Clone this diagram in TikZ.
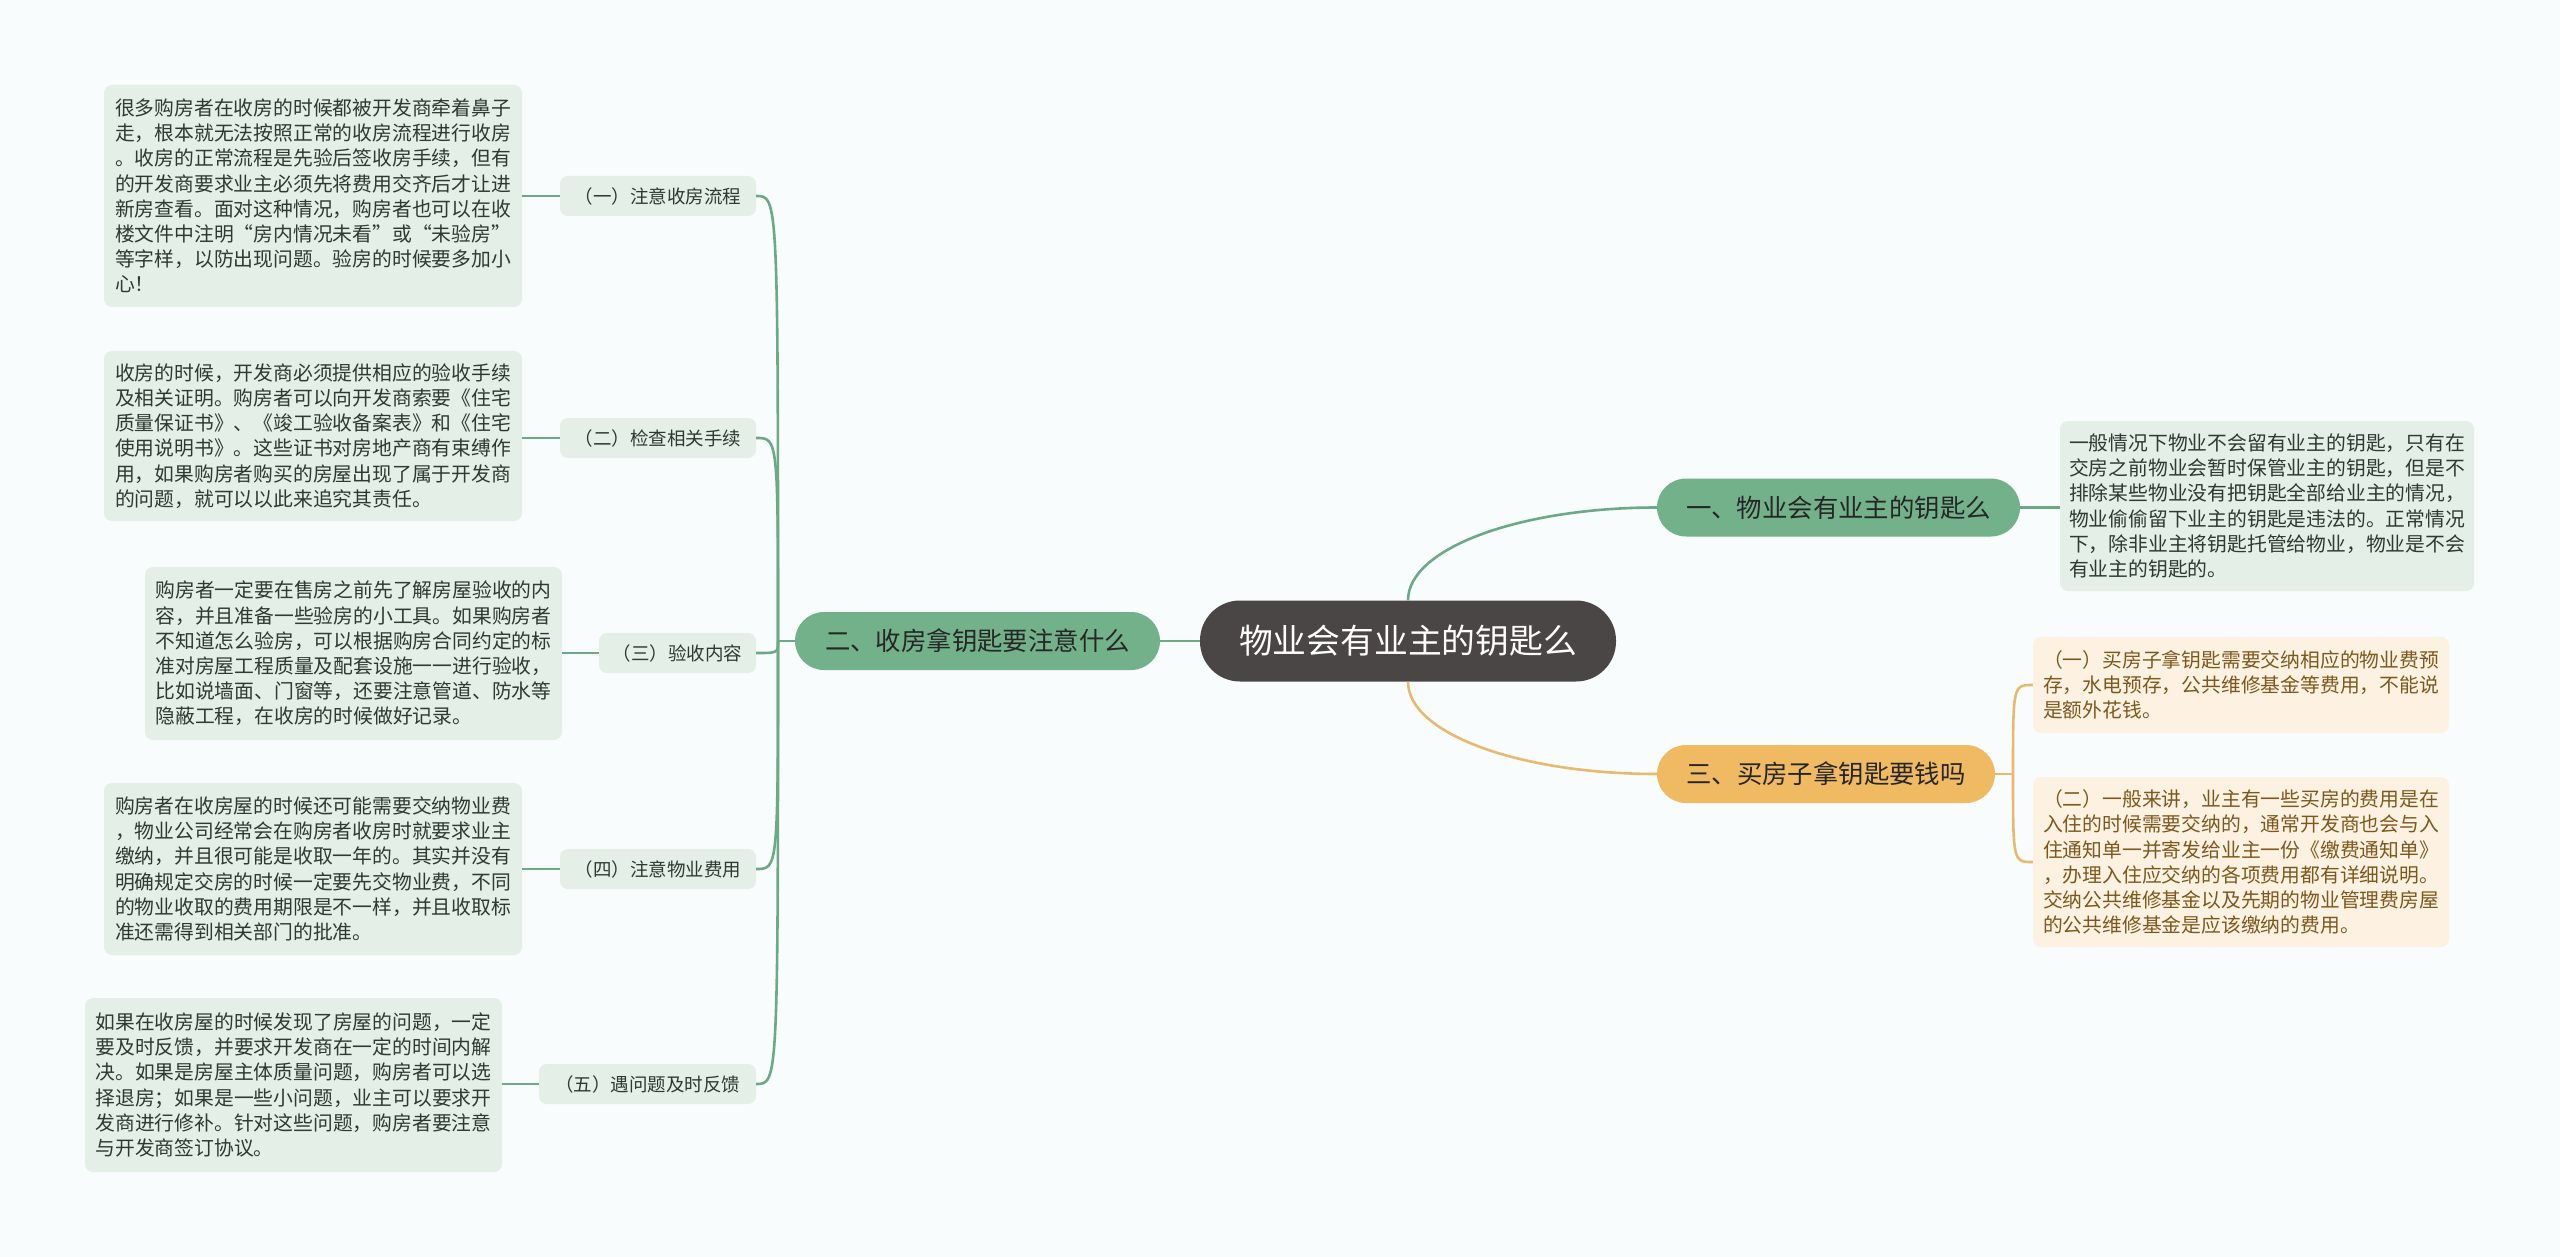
\documentclass[tikz,border=0pt]{standalone}
\usepackage{fontspec}
\setmainfont{Noto Sans CJK SC}
\definecolor{bgc}{RGB}{248,252,252}
\definecolor{darkc}{RGB}{74,70,70}
\definecolor{gbranch}{RGB}{115,177,138}
\definecolor{obranch}{RGB}{240,186,98}
\definecolor{gline}{RGB}{108,170,134}
\definecolor{oline}{RGB}{233,185,110}
\definecolor{gleaf}{RGB}{228,239,231}
\definecolor{oleaf}{RGB}{253,241,226}
\definecolor{gtext}{RGB}{44,58,48}
\definecolor{otext}{RGB}{125,88,28}
\begin{document}
\begin{tikzpicture}[x=1pt,y=-1pt,
  leaf/.style={fill=gleaf, rounded corners=8pt, align=left, text=gtext, inner sep=0pt,
    font=\fontsize{19.8}{25.2}\selectfont},
  oleafbox/.style={leaf, fill=oleaf, text=otext},
  subbox/.style={fill=gleaf, rounded corners=8pt, text=gtext, inner sep=0pt,
    minimum height=40, font=\fontsize{18.5}{22}\selectfont},
  gbr/.style={fill=gbranch, rounded corners=29pt, text=black!85, inner sep=0pt,
    minimum height=58, font=\fontsize{25.4}{30}\selectfont},
  obr/.style={gbr, fill=obranch},
  centre/.style={fill=darkc, rounded corners=40pt, text=white, inner sep=0pt,
    minimum width=416, minimum height=81, font=\fontsize{33.8}{40}\selectfont},
  gl/.style={draw=gline, line width=2.6pt},
  ol/.style={draw=oline, line width=2.6pt}]
\fill[bgc] (0,0) rectangle (2560,1257);
\useasboundingbox (0,0) rectangle (2560,1257);

% central and main branches
\node[centre] (c) at (1408,641) {物业会有业主的钥匙么};
\node[gbr, minimum width=363] (b1) at (1838.5,507.5) {一、物业会有业主的钥匙么};
\node[gbr, minimum width=365] (b2) at (977.5,641) {二、收房拿钥匙要注意什么};
\node[obr, minimum width=338] (b3) at (1826,774) {三、买房子拿钥匙要钱吗};

% left subtopics
\node[subbox, minimum width=196] (s1) at (658,196) {（一）注意收房流程};
\node[subbox, minimum width=196] (s2) at (658,438) {（二）检查相关手续};
\node[subbox, minimum width=157] (s3) at (677.5,653) {（三）验收内容};
\node[subbox, minimum width=196] (s4) at (658,869) {（四）注意物业费用};
\node[subbox, minimum width=217] (s5) at (647.5,1084) {（五）遇问题及时反馈};

% left leaves
\node[leaf, minimum width=418, minimum height=222] (l1) at (313,196) {很多购房者在收房的时候都被开发商牵着鼻子\\走，根本就无法按照正常的收房流程进行收房\\。收房的正常流程是先验后签收房手续，但有\\的开发商要求业主必须先将费用交齐后才让进\\新房查看。面对这种情况，购房者也可以在收\\楼文件中注明“房内情况未看”或“未验房”\\等字样，以防出现问题。验房的时候要多加小\\心！};
\node[leaf, minimum width=418, minimum height=170] (l2) at (313,436) {收房的时候，开发商必须提供相应的验收手续\\及相关证明。购房者可以向开发商索要《住宅\\质量保证书》、《竣工验收备案表》和《住宅\\使用说明书》。这些证书对房地产商有束缚作\\用，如果购房者购买的房屋出现了属于开发商\\的问题，就可以以此来追究其责任。};
\node[leaf, minimum width=417, minimum height=173] (l3) at (353.5,653.5) {购房者一定要在售房之前先了解房屋验收的内\\容，并且准备一些验房的小工具。如果购房者\\不知道怎么验房，可以根据购房合同约定的标\\准对房屋工程质量及配套设施一一进行验收，\\比如说墙面、门窗等，还要注意管道、防水等\\隐蔽工程，在收房的时候做好记录。};
\node[leaf, minimum width=418, minimum height=172] (l4) at (313,869) {购房者在收房屋的时候还可能需要交纳物业费\\，物业公司经常会在购房者收房时就要求业主\\缴纳，并且很可能是收取一年的。其实并没有\\明确规定交房的时候一定要先交物业费，不同\\的物业收取的费用期限是不一样，并且收取标\\准还需得到相关部门的批准。};
\node[leaf, minimum width=417, minimum height=174] (l5) at (293.5,1085) {如果在收房屋的时候发现了房屋的问题，一定\\要及时反馈，并要求开发商在一定的时间内解\\决。如果是房屋主体质量问题，购房者可以选\\择退房；如果是一些小问题，业主可以要求开\\发商进行修补。针对这些问题，购房者要注意\\与开发商签订协议。};

% right leaves
\node[leaf, minimum width=414, minimum height=170] (r1) at (2267,506) {一般情况下物业不会留有业主的钥匙，只有在\\交房之前物业会暂时保管业主的钥匙，但是不\\排除某些物业没有把钥匙全部给业主的情况，\\物业偷偷留下业主的钥匙是违法的。正常情况\\下，除非业主将钥匙托管给物业，物业是不会\\有业主的钥匙的。};
\node[oleafbox, minimum width=416, minimum height=96] (o1) at (2241,685) {（一）买房子拿钥匙需要交纳相应的物业费预\\存，水电预存，公共维修基金等费用，不能说\\是额外花钱。};
\node[oleafbox, minimum width=416, minimum height=170] (o2) at (2241,862) {（二）一般来讲，业主有一些买房的费用是在\\入住的时候需要交纳的，通常开发商也会与入\\住通知单一并寄发给业主一份《缴费通知单》\\，办理入住应交纳的各项费用都有详细说明。\\交纳公共维修基金以及先期的物业管理费房屋\\的公共维修基金是应该缴纳的费用。};

% connectors: central
\draw[gl] (c.north) .. controls +(0,-52) and +(-137,0) .. (b1.west);
\draw[ol] (c.south) .. controls +(0,52) and +(-137,0) .. (b3.west);
\draw[gl] (b2.east) -- (c.west);

% branch 2 to subtopics
\coordinate (j2) at (778,641);
\draw[gl] (b2.west) -- (j2);
\foreach \s in {s1,s2,s3,s4,s5}
  \draw[gl] (j2) .. controls (j2 |- \s.east) .. (\s.east);

% subtopics to leaves
\draw[gl] (s1.west) -- (s1.west -| l1.east);
\draw[gl] (s2.west) -- (s2.west -| l2.east);
\draw[gl] (s3.west) -- (s3.west -| l3.east);
\draw[gl] (s4.west) -- (s4.west -| l4.east);
\draw[gl] (s5.west) -- (s5.west -| l5.east);

% branch 1 to its leaf
\draw[gl] (b1.east) -- (b1.east -| r1.west);

% branch 3 to orange leaves
\coordinate (j3) at (2013,774);
\draw[ol] (b3.east) -- (j3);
\draw[ol] (j3) .. controls (j3 |- o1.west) .. (o1.west);
\draw[ol] (j3) .. controls (j3 |- o2.west) .. (o2.west);
\end{tikzpicture}
\end{document}
